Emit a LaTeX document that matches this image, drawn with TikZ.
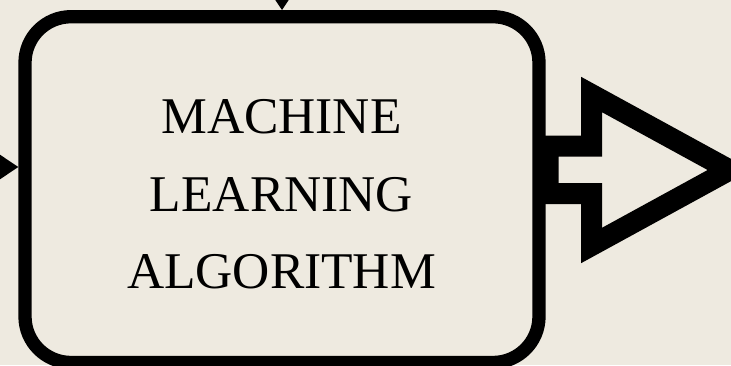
\documentclass[tikz,border=0pt]{standalone}
\usepackage{fontspec}
\setmainfont{Liberation Serif}
\usetikzlibrary{arrows.meta}
\definecolor{bg}{HTML}{EEEAE0}
\begin{document}
\begin{tikzpicture}[x=1pt,y=-1pt,
  algbox/.style={draw=black, line width=13.3pt, fill=bg, rounded corners=46pt,
    minimum width=514pt, minimum height=345.8pt, inner sep=0pt},
  algtext/.style={align=center, inner sep=0pt, font=\fontsize{51.5}{77.5}\selectfont},
  inarrow/.style={line width=3pt, -{Triangle[length=20pt,width=26pt]}},
  outarrow/.style={draw=black, line width=21pt, line join=miter, miter limit=10}]
\fill[bg] (0,0) rectangle (731,365);
\useasboundingbox (0,0) rectangle (731,365);
\node[algbox] (box) at (282,189.6) {};
\node[algtext] (lbl) at (281.5,194.5) {MACHINE\\LEARNING\\ALGORITHM};
\coordinate (inL) at (-60,167);
\coordinate (inT) at (282,-60);
\draw[inarrow] (inL) -- (inL -| box.west);
\draw[inarrow] (inT) -- (inT |- box.north);
\coordinate (a1) at (548,146);
\coordinate (a2) at (591.5,146);
\coordinate (a3) at (591.5,94.5);
\coordinate (tip) at (729.5,170);
\coordinate (a5) at (591.5,245.5);
\coordinate (a6) at (591.5,193.5);
\coordinate (a7) at (548,193.5);
\draw[outarrow] (a1) -- (a2) -- (a3) -- (tip) -- (a5) -- (a6) -- (a7) -- cycle;
\end{tikzpicture}
\end{document}
